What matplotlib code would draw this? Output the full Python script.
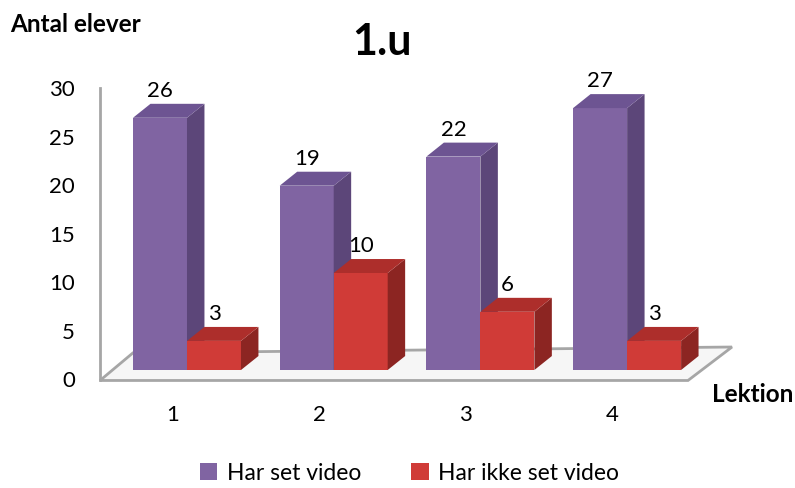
import numpy as np
import matplotlib
matplotlib.use('Agg')
import matplotlib.pyplot as plt
from matplotlib.patches import Polygon, Patch

plt.rcParams['font.family'] = ['Lato', 'DejaVu Sans']

lektion = ['1', '2', '3', '4']
har_set = [26, 19, 22, 27]
ikke_set = [3, 10, 6, 3]

series = [
    (har_set, 'Har set video', ('#8064a2', '#5c4679', '#6d5492')),
    (ikke_set, 'Har ikke set video', ('#d03b37', '#8c2522', '#ad2e2b')),
]

width = 0.368
base = 0.93            # bars stand on the floor, a bit above the axis zero
dx, dy = 0.119, 1.44   # depth offset of the 3d boxes

fig = plt.figure(figsize=(7.95, 4.88), dpi=100)
ax = fig.add_axes([100 / 795, 108 / 488, 632 / 795, 292 / 488])
ax.set_xlim(-0.593, 3.715)
ax.set_ylim(-0.1, 30)

x = np.arange(len(lektion))

# floor
floor = Polygon([(-0.593, -0.15), (3.415, -0.15), (3.715, 3.3), (-0.368, 2.7)],
                closed=True, facecolor='#f6f6f6', edgecolor='#a6a6a6',
                linewidth=2, clip_on=False, zorder=1)
ax.add_patch(floor)


def box(x0, h, colors, z):
    front, side, top = colors
    x1 = x0 + width
    y0, y1 = base, base + h
    ax.add_patch(Polygon([(x0, y0), (x1, y0), (x1, y1), (x0, y1)],
                         facecolor=front, edgecolor='none', clip_on=False, zorder=z))
    ax.add_patch(Polygon([(x1, y0), (x1 + dx, y0 + dy), (x1 + dx, y1 + dy), (x1, y1)],
                         facecolor=side, edgecolor='none', clip_on=False, zorder=z))
    ax.add_patch(Polygon([(x0, y1), (x1, y1), (x1 + dx, y1 + dy), (x0 + dx, y1 + dy)],
                         facecolor=top, edgecolor='none', clip_on=False, zorder=z))


for i in x:
    for j, (vals, label, colors) in enumerate(series):
        x0 = i - width + j * width
        box(x0, vals[i], colors, 3 + j)
        ax.annotate(str(vals[i]), (x0 + width / 2, base + vals[i] + dy),
                    xytext=(0, 2), textcoords='offset points',
                    ha='center', va='bottom', fontsize=16, zorder=10)

for s in ['top', 'right', 'bottom']:
    ax.spines[s].set_visible(False)
ax.spines['left'].set_color('#a6a6a6')
ax.spines['left'].set_linewidth(2)
ax.spines['left'].set_zorder(0)

ax.set_yticks(range(0, 31, 5))
ax.tick_params(axis='y', length=0, pad=18, labelsize=16)
ax.set_xticks(x - 0.1)
ax.set_xticklabels(lektion)
ax.tick_params(axis='x', length=0, pad=18, labelsize=16)

fig.text(0.481, 1 - 42 / 488, '1.u', fontsize=31, fontweight='bold',
         ha='center', va='center')
fig.text(10 / 795, 1 - 25 / 488, 'Antal elever', fontsize=17.5, fontweight='bold',
         ha='left', va='center')
fig.text(712 / 795, 1 - 395 / 488, 'Lektion', fontsize=17.5, fontweight='bold',
         ha='left', va='center')

handles = [Patch(facecolor=c[0], label=l) for _, l, c in series]
fig.legend(handles=handles, loc='center', bbox_to_anchor=(0.515, 15 / 488),
           ncol=2, frameon=False, fontsize=16.5, handlelength=0.75,
           handleheight=0.75, handletextpad=0.4, columnspacing=2.2)

fig.savefig('out.png', dpi=100)
